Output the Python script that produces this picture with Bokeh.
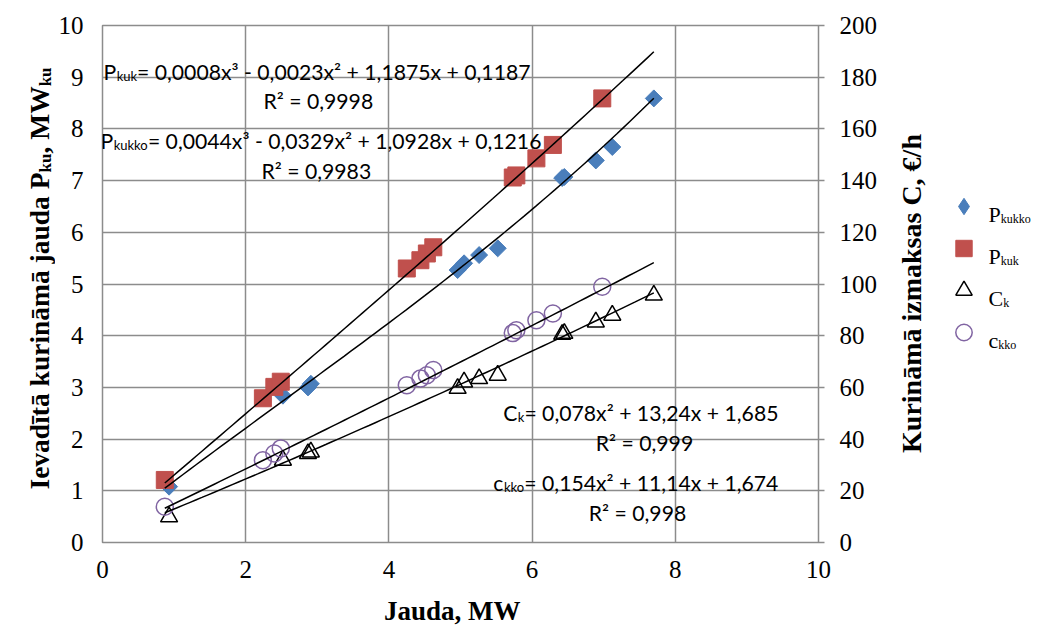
import math
import os
import struct
import numpy as np
from bokeh.plotting import figure
from bokeh.layouts import row, column
from bokeh.models import (Range1d, LinearAxis, Label, Legend, LegendItem, FixedTicker, Plot,
                          Scatter, ColumnDataSource)
from bokeh.embed import file_html
from bokeh.resources import INLINE

# ---------------- data ----------------
x_kuk = [0.87, 2.24, 2.40, 2.49, 4.25, 4.44, 4.53, 4.62, 5.73, 5.78, 6.06, 6.29, 6.98]
p_kuk = [1.21, 2.79, 3.01, 3.11, 5.30, 5.46, 5.59, 5.71, 7.06, 7.10, 7.43, 7.69, 8.59]
c_kko = [13.8, 31.8, 34.4, 36.4, 60.8, 63.4, 64.7, 66.7, 81.0, 82.1, 86.0, 88.6, 98.9]

x_kukko = [0.93, 2.52, 2.87, 2.91, 4.96, 5.05, 5.26, 5.52, 6.42, 6.45, 6.89, 7.12, 7.70]
p_kukko = [1.08, 2.84, 3.00, 3.07, 5.27, 5.40, 5.56, 5.69, 7.05, 7.07, 7.39, 7.65, 8.59]
c_k = [9.9, 31.8, 34.4, 35.0, 59.6, 62.1, 63.4, 64.7, 80.5, 80.9, 85.3, 87.9, 95.7]

# trendline coefficients (highest power first), as printed on the chart
fit_pkuk = [0.0008, -0.0023, 1.1875, 0.1187]
fit_pkukko = [0.0044, -0.0329, 1.0928, 0.1216]
fit_c_upper = [0.078, 13.24, 1.685]
fit_c_lower = [0.154, 11.14, 1.674]

x_ticks = [0, 2, 4, 6, 8, 10]
y_ticks = list(range(0, 11))
c_ticks = list(range(0, 201, 20))

COL_KUKKO = "#4A7EBB"
COL_KUK = "#C0504D"
COL_CKKO = "#8064A2"


# ---------------- text width measurement from installed font files ----------------
class TTF:
    def __init__(self, path):
        d = open(path, "rb").read()
        self.d = d
        n = struct.unpack(">H", d[4:6])[0]
        tb = {}
        for i in range(n):
            tag, _, off, ln = struct.unpack(">4sIII", d[12 + 16 * i:28 + 16 * i])
            tb[tag.decode("latin1")] = off
        h = tb["head"]
        self.upm = struct.unpack(">H", d[h + 18:h + 20])[0]
        hh = tb["hhea"]
        nh = struct.unpack(">H", d[hh + 34:hh + 36])[0]
        hm = tb["hmtx"]
        self.adv = [struct.unpack(">H", d[hm + 4 * i:hm + 4 * i + 2])[0] for i in range(nh)]
        cm = tb["cmap"]
        nsub = struct.unpack(">H", d[cm + 2:cm + 4])[0]
        best = None
        for i in range(nsub):
            pid, eid, off = struct.unpack(">HHI", d[cm + 4 + 8 * i:cm + 12 + 8 * i])
            fmt = struct.unpack(">H", d[cm + off:cm + off + 2])[0]
            if fmt == 4 and pid in (0, 3):
                best = cm + off
        o = best
        s2 = struct.unpack(">H", d[o + 6:o + 8])[0]
        s = s2 // 2
        self.ends = struct.unpack(">%dH" % s, d[o + 14:o + 14 + s2])
        self.starts = struct.unpack(">%dH" % s, d[o + 16 + s2:o + 16 + 2 * s2])
        self.deltas = struct.unpack(">%dh" % s, d[o + 16 + 2 * s2:o + 16 + 3 * s2])
        self.ro = o + 16 + 3 * s2
        self.ranges = struct.unpack(">%dH" % s, d[self.ro:self.ro + s2])

    def gid(self, c):
        for i, e in enumerate(self.ends):
            if e >= c:
                if self.starts[i] > c:
                    return 0
                if self.ranges[i] == 0:
                    return (c + self.deltas[i]) & 0xFFFF
                a = self.ro + 2 * i + self.ranges[i] + 2 * (c - self.starts[i])
                g = struct.unpack(">H", self.d[a:a + 2])[0]
                return (g + self.deltas[i]) & 0xFFFF if g else 0
        return 0

    def width(self, text, size):
        t = 0
        for ch in text:
            g = self.gid(ord(ch))
            t += self.adv[min(g, len(self.adv) - 1)]
        return t / self.upm * size


def find_font(fname):
    for root in ["/usr/share/fonts", "/usr/local/share/fonts", os.path.expanduser("~/.fonts"),
                 os.path.expanduser("~/.local/share/fonts")]:
        for dp, _, fns in os.walk(root):
            if fname in fns:
                return os.path.join(dp, fname)
    return None


FONTS = {}
for key, fn in [("serif", "LiberationSerif-Regular.ttf"), ("serifb", "LiberationSerif-Bold.ttf"),
                ("lato", "Lato-Regular.ttf")]:
    try:
        FONTS[key] = TTF(find_font(fn))
    except Exception:
        FONTS[key] = None

FALLBACK = {"serif": 0.47, "serifb": 0.5, "lato": 0.53}


def tw(key, text, size):
    f = FONTS.get(key)
    if f is not None:
        try:
            return f.width(text, size)
        except Exception:
            pass
    return FALLBACK[key] * size * len(text)


# ---------------- layout constants ----------------
W, H = 1048, 628
LW = 55                      # left title strip
ML, MR, T, B = 45, 60, 25, 49  # borders of main figure
FW, FH = 720, 517
MW = ML + FW + MR
MH = T + FH + B
BH = H - MH                  # bottom strip (x title)
RW = W - LW - MW             # right strip (title + legend)
X0 = LW + ML                 # absolute x of frame left
RX0 = LW + MW                # absolute x of right strip
GRID = "#8c8c8c"
SERIF = "Liberation Serif"
EQF = "Lato"


def X(px):
    return (px - X0) / FW * 10.0


def Y(py):
    return (T + FH - py) / FH * 10.0


p = figure(width=MW, height=MH, x_range=Range1d(0, 10), y_range=Range1d(0, 10),
           output_backend="svg", toolbar_location=None,
           min_border_left=ML, min_border_right=MR, min_border_top=T, min_border_bottom=B)
p.extra_y_ranges = {"cost": Range1d(0, 200)}

p.xaxis.ticker = FixedTicker(ticks=x_ticks)
p.yaxis.ticker = FixedTicker(ticks=y_ticks)
right = LinearAxis(y_range_name="cost", ticker=FixedTicker(ticks=c_ticks))
p.add_layout(right, "right")

for ax in [p.xaxis[0], p.yaxis[0], right]:
    ax.axis_line_color = None
    ax.minor_tick_line_color = None
    ax.major_label_text_font = SERIF
    ax.major_label_text_font_size = "25px"
    ax.major_label_text_color = "black"
    ax.major_tick_in = 0
p.xaxis.major_tick_out = 0
p.xaxis.major_tick_line_color = None
p.xaxis.major_label_standoff = 18
p.yaxis.major_tick_out = 0
p.yaxis.major_tick_line_color = None
p.yaxis.major_label_standoff = 19
right.major_tick_out = 6
right.major_tick_line_color = GRID
right.major_tick_line_width = 1.5
right.major_label_standoff = 15

p.xgrid.grid_line_color = GRID
p.ygrid.grid_line_color = GRID
p.xgrid.grid_line_width = 1.5
p.ygrid.grid_line_width = 1.5
p.outline_line_color = GRID
p.outline_line_width = 1.5
p.outline_line_alpha = 1.0

# ---------------- series ----------------
p.scatter(x_kukko, p_kukko, marker="square", angle=math.pi / 4, size=12,
          fill_color=COL_KUKKO, line_color=COL_KUKKO)
p.scatter(x_kuk, p_kuk, marker="square", size=17, fill_color=COL_KUK, line_color=COL_KUK)
p.scatter(x_kukko, c_k, marker="triangle", size=17, fill_color=None,
          line_color="black", line_width=1.5, y_range_name="cost")
p.scatter(x_kuk, c_kko, marker="circle", size=17, fill_color=None,
          line_color=COL_CKKO, line_width=1.5, y_range_name="cost")

xs = np.linspace(min(x_kuk + x_kukko), max(x_kuk + x_kukko), 80)
p.line(xs, np.polyval(fit_pkuk, xs), line_color="black", line_width=1.5)
p.line(xs, np.polyval(fit_pkukko, xs), line_color="black", line_width=1.5)
p.line(xs, np.polyval(fit_c_upper, xs), line_color="black", line_width=1.5, y_range_name="cost")
p.line(xs, np.polyval(fit_c_lower, xs), line_color="black", line_width=1.5, y_range_name="cost")


def lab(text, px, py, font, size, align="left", baseline="alphabetic", angle=0.0, style="normal"):
    p.add_layout(Label(x=X(px), y=Y(py), text=text, text_font=font, text_font_size=size,
                       text_align=align, text_baseline=baseline, angle=angle,
                       text_font_style=style, text_color="black"))


# ---------------- equations ----------------
EQ, SUB = 21.2, 13


def equation(main, sub, rest, px, py):
    lab(main, px, py, EQF, f"{EQ}px")
    sx = px + tw("lato", main, EQ) + 0.5
    lab(sub, sx, py + 4, EQF, f"{SUB}px")
    lab(rest, sx + tw("lato", sub, SUB), py, EQF, f"{EQ}px")


equation("P", "kuk", "= 0,0008x³ - 0,0023x² + 1,1875x + 0,1187", 101, 71)
lab("R² = 0,9998", 317, 100, EQF, f"{EQ}px", align="center")
equation("P", "kukko", "= 0,0044x³ - 0,0329x² + 1,0928x + 0,1216", 98, 140)
lab("R² = 0,9983", 315, 170, EQF, f"{EQ}px", align="center")
equation("C", "k", " = 0,078x² + 13,24x + 1,685", 503, 412)
lab("R² = 0,999", 645, 442, EQF, f"{EQ}px", align="center")
equation("c", "kko", "= 0,154x² + 11,14x + 1,674", 493, 482)
lab("R² = 0,998", 638, 512, EQF, f"{EQ}px", align="center")


# ---------------- side strips (pixel coordinates) ----------------
def strip(width, height):
    return Plot(width=width, height=height, x_range=Range1d(0, width), y_range=Range1d(0, height),
                output_backend="svg", toolbar_location=None, title=None,
                min_border_left=0, min_border_right=0, min_border_top=0, min_border_bottom=0,
                outline_line_color=None)


left = strip(LW, H)
bottom = strip(MW, BH)
rs = strip(RW, H)


def slab(f, x0, y0, text, px, py, font, size, align="left", baseline="alphabetic",
         angle=0.0, style="normal"):
    hh = f.height
    f.add_layout(Label(x=px - x0, y=hh - (py - y0), text=text, text_font=font,
                       text_font_size=size, text_align=align, text_baseline=baseline,
                       angle=angle, text_font_style=style, text_color="black"))


# x axis title
slab(bottom, LW, MH, "Jauda, MW", 458, 610, SERIF, "27px", align="center", baseline="middle",
     style="bold")

# left title, rotated, with subscripts (centre lines given for each piece)
TS, SS = 27.5, 17
pieces = [("Ievadītā kurināmā jauda P", TS), ("ku", SS), (", MW", TS), ("ku", SS)]
widths = [tw("serifb", t, s) for t, s in pieces]
ypos = 278 + sum(widths) / 2
for (txt, sz), w in zip(pieces, widths):
    xc = 38.5 if sz == TS else 45.0
    slab(left, 0, 0, txt, xc, ypos, SERIF, f"{sz}px", baseline="middle",
         angle=math.pi / 2, style="bold")
    ypos -= w

# right title
slab(rs, RX0, 0, "Kurināmā izmaksas C, €/h", 911, 293, SERIF, "28px", align="center",
     baseline="middle", angle=math.pi / 2, style="bold")

# legend: glyph samples styled like the series (no visible data points)
nan = [float("nan")]
d1 = rs.add_glyph(ColumnDataSource(dict(x=nan, y=nan)),
                  Scatter(x="x", y="y", marker="diamond", size=17,
                          fill_color=COL_KUKKO, line_color=COL_KUKKO))
d2 = rs.add_glyph(ColumnDataSource(dict(x=nan, y=nan)),
                  Scatter(x="x", y="y", marker="square", size=17, fill_color=COL_KUK,
                          line_color=COL_KUK))
d3 = rs.add_glyph(ColumnDataSource(dict(x=nan, y=nan)),
                  Scatter(x="x", y="y", marker="triangle", size=17, fill_color=None,
                          line_color="black", line_width=1.5))
d4 = rs.add_glyph(ColumnDataSource(dict(x=nan, y=nan)),
                  Scatter(x="x", y="y", marker="circle", size=17, fill_color=None,
                          line_color=COL_CKKO, line_width=1.5))
ROW = 42
first_cy = 206
leg_top = first_cy - ROW / 2
leg_bottom = leg_top + 4 * ROW
legend = Legend(items=[LegendItem(label=" ", renderers=[d]) for d in [d1, d2, d3, d4]],
                location=(963 - RX0 - 20.5, H - leg_bottom), glyph_width=41, glyph_height=ROW,
                label_height=20, spacing=0, padding=0, margin=0, label_standoff=0,
                border_line_color=None, background_fill_alpha=0,
                label_text_font_size="1px")
rs.add_layout(legend)

leg_rows = [("P", "kukko"), ("P", "kuk"), ("C", "k"), ("c", "kko")]
for i, (m, s) in enumerate(leg_rows):
    cy = first_cy + i * ROW
    slab(rs, RX0, 0, m, 988, cy + 8, SERIF, "22px")
    slab(rs, RX0, 0, s, 988 + tw("serif", m, 22), cy + 12, SERIF, "12px")

layout = row(left, column(p, bottom), rs)
open("out.html", "w").write(file_html(layout, INLINE))
